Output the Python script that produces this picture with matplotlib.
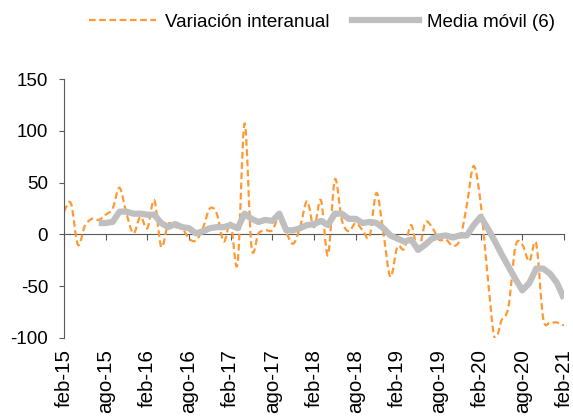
import numpy as np
import matplotlib.pyplot as plt
from matplotlib.path import Path
from matplotlib.patches import PathPatch
from matplotlib.lines import Line2D

plt.rcParams['font.family'] = ['Liberation Sans', 'DejaVu Sans']
plt.rcParams['font.size'] = 13.5
plt.rcParams['axes.unicode_minus'] = False

# meses feb-15 .. feb-21 (73 puntos)
tick_labels = ['feb-15', 'ago-15', 'feb-16', 'ago-16', 'feb-17', 'ago-17', 'feb-18',
               'ago-18', 'feb-19', 'ago-19', 'feb-20', 'ago-20', 'feb-21']

var_interanual = [22, 30, -10, 8, 15, 14, 19, 25, 45, 20,
                  1, 17, 6, 33, -12, 10, 7, 6, -4, -6,
                  6, 25, 20, -7, 11, -28, 107, -12, 1, 4,
                  4, 17, 2, -9, 7, 32, 7, 33, -20, 53,
                  14, 3, 11, 4, -2, 40, 1, -41, -12, -14,
                  9, -17, 11, 7, -5, -5, -11, -5, 28, 66,
                  30, -40, -100, -83, -70, -12, -10, -26, -9, -81,
                  -85, -85, -88]

media_movil = [11, 11, 12, 22, 22, 20, 20, 19, 19, 11,
               7, 10, 7, 6, 1, 3, 6, 7, 7, 9,
               6, 20, 15, 12, 14, 13, 20, 4, 4, 6,
               9, 10, 13, 9, 20, 20, 15, 15, 11, 12,
               11, 6, -1, -4, -7, -5, -15, -10, -4, -2,
               -1, -3, -1, -1, 9, 17, 6, -6, -19, -31,
               -43, -54, -47, -33, -33, -38, -47, -62]

x = np.arange(len(var_interanual))
x_mm = np.arange(5, 5 + len(media_movil))


def smooth_path(xs, ys):
    # curva suavizada tipo Excel (bezier cubica)
    pts = np.column_stack([xs, ys]).astype(float)
    ext = np.vstack([pts[0], pts, pts[-1]])
    verts = [pts[0]]
    codes = [Path.MOVETO]
    for i in range(len(pts) - 1):
        p0, p1, p2, p3 = ext[i], ext[i + 1], ext[i + 2], ext[i + 3]
        verts += [p1 + (p2 - p0) / 6, p2 - (p3 - p1) / 6, p2]
        codes += [Path.CURVE4] * 3
    return Path(verts, codes)


orange = '#FF9933'
grey = '#BFBFBF'

fig = plt.figure(figsize=(5.73, 4.16), dpi=100)
ax = fig.add_axes([64 / 573, 1 - 338 / 416, 500 / 573, 259 / 416])

ax.add_patch(PathPatch(smooth_path(x, var_interanual), fill=False, edgecolor=orange,
                       lw=1.6, linestyle=(0, (3, 1.6)), zorder=2))
ax.plot(x_mm, media_movil, color=grey, lw=4.5, solid_joinstyle='round',
        solid_capstyle='butt', zorder=3)

ax.set_xlim(0, 72)
ax.set_ylim(-100, 150)
ax.set_yticks([-100, -50, 0, 50, 100, 150])

for s in ['top', 'right']:
    ax.spines[s].set_visible(False)
ax.spines['bottom'].set_position(('data', 0))
ax.spines['bottom'].set_color('#595959')
ax.spines['left'].set_color('#595959')
ax.spines['bottom'].set_zorder(1)

ax.set_xticks(np.arange(0, 73, 6))
ax.tick_params(axis='x', direction='out', length=4.5, color='#595959', labelbottom=False)
ax.tick_params(axis='y', direction='out', length=3.5, color='#595959', pad=8)

sec = ax.secondary_xaxis(0)
sec.set_xticks(np.arange(0, 73, 6))
sec.set_xticklabels(tick_labels, rotation=90, va='top', ha='center', fontsize=14.8)
sec.tick_params(length=0, pad=8)
sec.spines['bottom'].set_visible(False)

handles = [Line2D([], [], color=orange, lw=1.6, linestyle=(0, (3, 1.6))),
           Line2D([], [], color=grey, lw=4.5)]
fig.legend(handles, ['Variación interanual', 'Media móvil (6)'], loc='center',
           bbox_to_anchor=(0.562, 1 - 22 / 416), ncol=2, frameon=False,
           handlelength=3.6, handletextpad=0.45, columnspacing=1.2)

fig.savefig('out.png', dpi=100)
